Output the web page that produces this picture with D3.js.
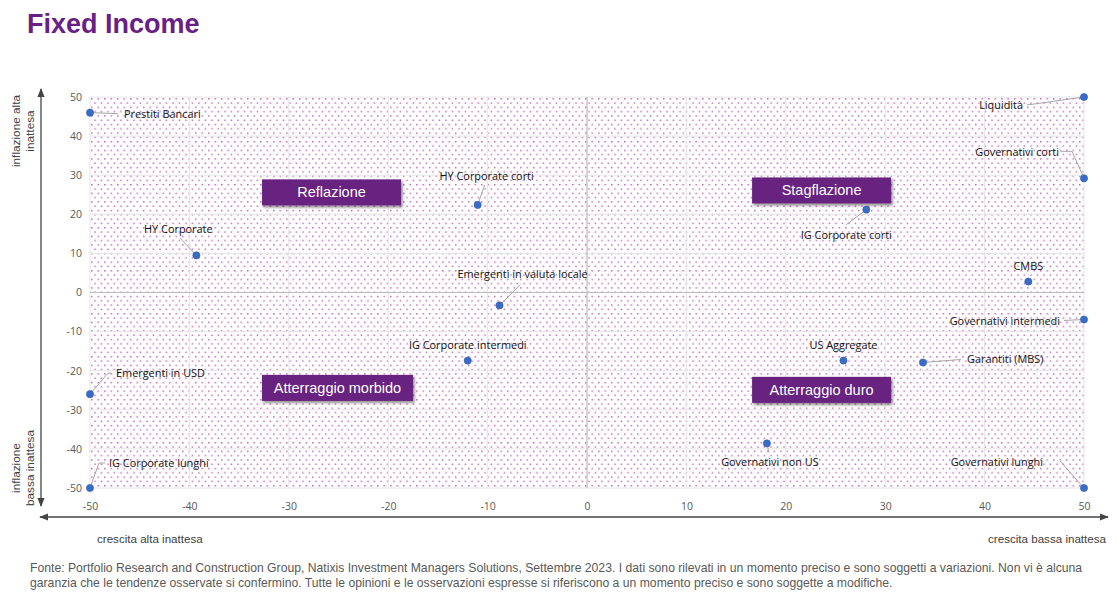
<!DOCTYPE html>
<html>
<head>
<meta charset="utf-8">
<script src="https://cdn.jsdelivr.net/npm/d3@7"></script>
<style>
  body { margin: 0; background: #fff; }
</style>
</head>
<body>
<script>
const svg_width = 1118;
const svg_height = 600;

// dati: crescita (x), inflazione (y)
const names = ['Prestiti Bancari', 'Liquidità', 'Governativi corti', 'HY Corporate corti', 'IG Corporate corti',
    'HY Corporate', 'Emergenti in valuta locale', 'CMBS', 'Governativi intermedi', 'IG Corporate intermedi',
    'US Aggregate', 'Garantiti (MBS)', 'Emergenti in USD', 'Governativi non US', 'IG Corporate lunghi', 'Governativi lunghi'];
const x_values = [-50, 50, 50, -11, 28.1, -39.3, -8.8, 44.4, 50, -12, 25.8, 33.8, -50, 18.1, -50, 50];
const y_values = [46, 50, 29.2, 22.4, 21.2, 9.5, -3.3, 2.8, -6.9, -17.4, -17.4, -17.9, -26, -38.6, -50, -50];
const ticks = [-50, -40, -30, -20, -10, 0, 10, 20, 30, 40, 50];

const quadrants = ['Reflazione', 'Stagflazione', 'Atterraggio morbido', 'Atterraggio duro'];
const quadrant_x = [-25.7, 23.6, -25.1, 23.6];
const quadrant_y = [25.6, 26.1, -24.4, -24.9];

// posizione delle etichette (offset in px rispetto al punto)
const label_layout = [
    {dx: 34, dy: 1, anchor: 'start', lx: 28, ly: 1},
    {dx: -61, dy: 8, anchor: 'end', lx: -57, ly: 8},
    {dx: -25, dy: -26, anchor: 'end', lx: -23, ly: -27, ex: -12},
    {dx: 9, dy: -29, anchor: 'middle', lx: 7, ly: -20},
    {dx: -20, dy: 25, anchor: 'middle', lx: -20, ly: 15},
    {dx: -18, dy: -26, anchor: 'middle', lx: -16, ly: -17},
    {dx: 23, dy: -31, anchor: 'middle', lx: 21, ly: -21},
    {dx: 0, dy: -16, anchor: 'middle'},
    {dx: -24, dy: 2, anchor: 'end', lx: -20, ly: 1},
    {dx: 0, dy: -16, anchor: 'middle'},
    {dx: 0, dy: -16, anchor: 'middle'},
    {dx: 44, dy: -3, anchor: 'start', lx: 38, ly: -3},
    {dx: 26, dy: -21, anchor: 'start', lx: 21, ly: -21, ex: 18},
    {dx: 3, dy: 19, anchor: 'middle', lx: 2, ly: 9},
    {dx: 19, dy: -25, anchor: 'start', lx: 15, ly: -25, ex: 9},
    {dx: -41, dy: -26, anchor: 'end', lx: -24, ly: -27}
];

const points = names.map((n, i) => ({name: n, x: x_values[i], y: y_values[i], lab: label_layout[i]}));

const x = d3.scaleLinear().domain([-50, 50]).range([90, 1084]);
const y = d3.scaleLinear().domain([-50, 50]).range([488, 97]);

const svg = d3.select('body')
    .append('svg')
    .attr('width', svg_width)
    .attr('height', svg_height);

const defs = svg.append('defs');
const pattern = defs.append('pattern')
    .attr('id', 'dots')
    .attr('patternUnits', 'userSpaceOnUse')
    .attr('width', 6.5)
    .attr('height', 8.6)
    .attr('x', x(-50) + 1)
    .attr('y', y(50) + 1);
pattern.append('rect').attr('x', 0).attr('y', 0).attr('width', 1.5).attr('height', 1.5).attr('fill', '#c26bbb');
pattern.append('rect').attr('x', 3.25).attr('y', 4.3).attr('width', 1.5).attr('height', 1.5).attr('fill', '#c26bbb');

const shadow = defs.append('filter').attr('id', 'shadow').attr('x', '-10%').attr('y', '-20%').attr('width', '130%').attr('height', '160%');
shadow.append('feDropShadow').attr('dx', 1.5).attr('dy', 2).attr('stdDeviation', 1.5).attr('flood-color', '#000').attr('flood-opacity', 0.45);

const arrow = defs.append('marker')
    .attr('id', 'arrow')
    .attr('viewBox', '0 0 10 10')
    .attr('refX', 9).attr('refY', 5)
    .attr('markerWidth', 7).attr('markerHeight', 7)
    .attr('orient', 'auto-start-reverse');
arrow.append('path').attr('d', 'M0,1 L10,5 L0,9 Z').attr('fill', '#444');

// titolo
svg.append('text')
    .attr('x', 27)
    .attr('y', 33)
    .attr('font-family', 'Liberation Sans, Arial, sans-serif')
    .attr('font-weight', 'bold')
    .attr('font-size', 27)
    .attr('fill', '#6a1f86')
    .text('Fixed Income');

// sfondo a puntini
svg.append('rect')
    .attr('x', x(-50))
    .attr('y', y(50))
    .attr('width', x(50) - x(-50))
    .attr('height', y(-50) - y(50))
    .attr('fill', 'url(#dots)');

// griglia
const grid_g = svg.append('g');
grid_g.selectAll('.vgrid')
    .data(ticks.filter(t => t !== 0))
    .enter()
    .append('line')
    .attr('x1', d => x(d)).attr('x2', d => x(d))
    .attr('y1', y(50)).attr('y2', y(-50))
    .attr('stroke', '#e6e6e6').attr('stroke-width', 1);
grid_g.selectAll('.hgrid')
    .data(ticks.filter(t => t !== 0))
    .enter()
    .append('line')
    .attr('x1', x(-50)).attr('x2', x(50))
    .attr('y1', d => y(d)).attr('y2', d => y(d))
    .attr('stroke', '#e6e6e6').attr('stroke-width', 1);
grid_g.append('line')
    .attr('x1', x(0)).attr('x2', x(0)).attr('y1', y(50)).attr('y2', y(-50))
    .attr('stroke', '#bdbdbd').attr('stroke-width', 1.2);
grid_g.append('line')
    .attr('x1', x(-50)).attr('x2', x(50)).attr('y1', y(0)).attr('y2', y(0))
    .attr('stroke', '#bdbdbd').attr('stroke-width', 1.2);

// assi
const tick_font = 'Open Sans, Noto Sans, sans-serif';
const tick_fmt = d => String(d);
const x_axis = svg.append('g')
    .attr('transform', `translate(0, ${y(-50) + 9})`)
    .call(d3.axisBottom(x).tickValues(ticks).tickFormat(tick_fmt).tickSize(0).tickPadding(6));
x_axis.select('.domain').remove();
x_axis.selectAll('text').attr('font-family', tick_font).attr('font-size', 10.5).attr('fill', '#595959');

const y_axis = svg.append('g')
    .attr('transform', `translate(${x(-50) - 8}, 0)`)
    .call(d3.axisLeft(y).tickValues(ticks).tickFormat(tick_fmt).tickSize(0).tickPadding(0));
y_axis.select('.domain').remove();
y_axis.selectAll('text').attr('font-family', tick_font).attr('font-size', 10.5).attr('fill', '#595959');

// frecce
svg.append('line')
    .attr('x1', 41).attr('x2', 41).attr('y1', 89).attr('y2', 506)
    .attr('stroke', '#444').attr('stroke-width', 1.3)
    .attr('marker-start', 'url(#arrow)').attr('marker-end', 'url(#arrow)');
svg.append('line')
    .attr('x1', 40).attr('x2', 1108).attr('y1', 517).attr('y2', 517)
    .attr('stroke', '#444').attr('stroke-width', 1.3)
    .attr('marker-start', 'url(#arrow)').attr('marker-end', 'url(#arrow)');

const axis_font = 'Liberation Sans, Arial, sans-serif';
const y_titles = [
    {lines: ['inflazione alta', 'inattesa'], cy: 131},
    {lines: ['inflazione', 'bassa inattesa'], cy: 468}
];
y_titles.forEach(t => {
    const g = svg.append('g').attr('transform', `translate(22, ${t.cy}) rotate(-90)`);
    g.selectAll('text')
        .data(t.lines)
        .enter()
        .append('text')
        .attr('text-anchor', 'middle')
        .attr('y', (d, i) => i * 13.5 - 2)
        .attr('font-family', axis_font)
        .attr('font-size', 11.8)
        .attr('fill', '#404040')
        .text(d => d);
});
svg.append('text')
    .attr('x', 97).attr('y', 543)
    .attr('font-family', axis_font).attr('font-size', 11.6).attr('fill', '#404040')
    .text('crescita alta inattesa');
svg.append('text')
    .attr('x', 1106).attr('y', 543)
    .attr('text-anchor', 'end')
    .attr('font-family', axis_font).attr('font-size', 11.6).attr('fill', '#404040')
    .text('crescita bassa inattesa');

// riquadri dei quadranti
const quad_g = svg.append('g');
quadrants.forEach((q, i) => {
    const cx = x(quadrant_x[i]);
    const cy = y(quadrant_y[i]);
    const w = q.length > 16 ? 151 : 139;
    quad_g.append('rect')
        .attr('x', cx - w / 2).attr('y', cy - 13)
        .attr('width', w).attr('height', 26)
        .attr('fill', '#68217f')
        .attr('filter', 'url(#shadow)');
    quad_g.append('text')
        .attr('x', cx).attr('y', cy + 5)
        .attr('text-anchor', 'middle')
        .attr('font-family', axis_font)
        .attr('font-size', 14.5)
        .attr('fill', '#fff')
        .text(q);
});

// linee guida delle etichette
const label_font = 'Open Sans, Noto Sans, sans-serif';
const lead_g = svg.append('g');
points.filter(d => d.lab.lx !== undefined).forEach(d => {
    const px = x(d.x), py = y(d.y);
    const pts = [[px, py]];
    if (d.lab.ex !== undefined) pts.push([px + d.lab.ex, py + d.lab.ly]);
    pts.push([px + d.lab.lx, py + d.lab.ly]);
    lead_g.append('path')
        .attr('d', d3.line()(pts))
        .attr('fill', 'none')
        .attr('stroke', '#a6a6a6')
        .attr('stroke-width', 1);
});

// punti
svg.append('g')
    .selectAll('circle')
    .data(points)
    .enter()
    .append('circle')
    .attr('cx', d => x(d.x))
    .attr('cy', d => y(d.y))
    .attr('r', 3.6)
    .attr('fill', '#3a6cc6')
    .attr('stroke', '#2f5db0')
    .attr('stroke-width', 0.6);

// etichette
svg.append('g')
    .selectAll('text')
    .data(points)
    .enter()
    .append('text')
    .attr('x', d => x(d.x) + d.lab.dx)
    .attr('y', d => y(d.y) + d.lab.dy + 4)
    .attr('text-anchor', d => d.lab.anchor)
    .attr('font-family', label_font)
    .attr('font-size', 10.9)
    .attr('fill', '#111')
    .text(d => d.name);

// nota
const notes = [
    'Fonte: Portfolio Research and Construction Group, Natixis Investment Managers Solutions, Settembre 2023. I dati sono rilevati in un momento preciso e sono soggetti a variazioni. Non vi è alcuna',
    'garanzia che le tendenze osservate si confermino. Tutte le opinioni e le osservazioni espresse si riferiscono a un momento preciso e sono soggette a modifiche.'
];
svg.append('g')
    .selectAll('text')
    .data(notes)
    .enter()
    .append('text')
    .attr('x', 30)
    .attr('y', (d, i) => 572 + i * 14.5)
    .attr('font-family', axis_font)
    .attr('font-size', 12.2)
    .attr('fill', '#595959')
    .text(d => d);
</script>
</body>
</html>
